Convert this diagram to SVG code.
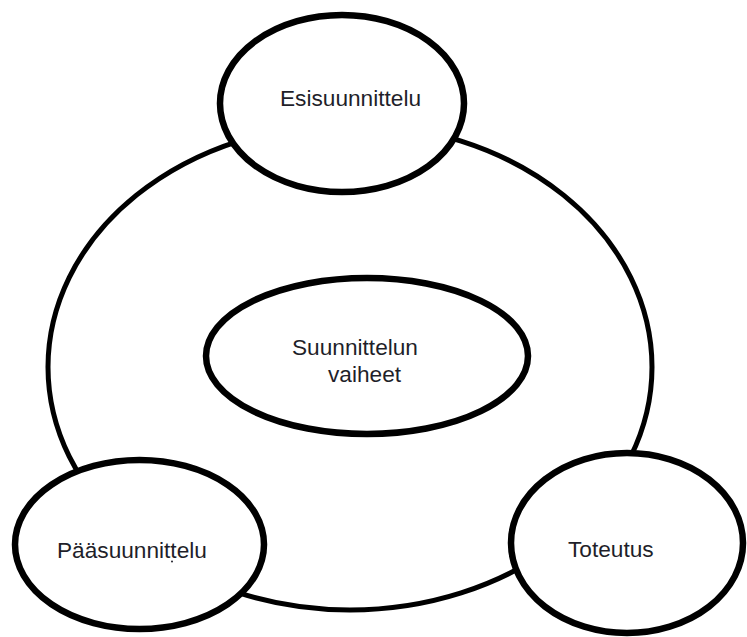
<svg xmlns="http://www.w3.org/2000/svg" width="747" height="637" viewBox="0 0 747 637">
  <style>
    .ring { fill: none; stroke: #000; stroke-width: 5; }
    .node { fill: #fff; stroke: #000; stroke-width: 6.5; }
    .label { font-family: "Liberation Sans", Arial, sans-serif; font-size: 22.67px; fill: #1f1f2a; }
  </style>
  <rect width="747" height="637" fill="#fff"/>

  <!-- cycle ring linking the three phases -->
  <g id="connectors">
    <ellipse class="ring" cx="350" cy="367" rx="302" ry="243"/>
  </g>

  <g id="center">
    <ellipse class="node" cx="367" cy="356" rx="161" ry="78"/>
    <text class="label" x="292" y="355">Suunnittelun</text>
    <text class="label" x="328" y="382">vaiheet</text>
  </g>

  <g id="esisuunnittelu">
    <ellipse class="node" cx="342" cy="103.5" rx="122" ry="88.5"/>
    <text class="label" x="280" y="106">Esisuunnittelu</text>
  </g>

  <g id="paasuunnittelu">
    <ellipse class="node" cx="139.5" cy="544.5" rx="124.5" ry="84.5"/>
    <text class="label" x="57" y="558">Pääsuunnittelu</text>
    <circle cx="172" cy="561.5" r="1" fill="#1f1f2a"/>
  </g>

  <g id="toteutus">
    <ellipse class="node" cx="627" cy="543" rx="116" ry="90"/>
    <text class="label" x="568" y="557">Toteutus</text>
  </g>
</svg>
